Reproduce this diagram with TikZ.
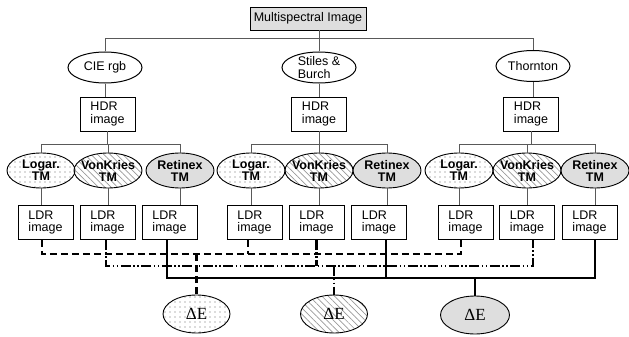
\documentclass[tikz,border=0pt]{standalone}
\usepackage{fontspec}
\setmainfont{Liberation Sans}
\newfontfamily\deltafont{Liberation Serif}
\usetikzlibrary{shapes.geometric,patterns.meta}
\definecolor{boxgray}{gray}{0.87}
\definecolor{linegray}{gray}{0.35}
\tikzset{
    every node/.style={font=\fontsize{12.5}{12.5}\selectfont},
    tree/.style={draw=linegray, line width=0.7pt},
    topbox/.style={draw, line width=0.8pt, fill=boxgray, minimum width=116pt, minimum height=23pt, inner sep=0pt},
    imgbox/.style={draw, line width=0.8pt, minimum width=55pt, minimum height=34pt, inner sep=0pt, align=left},
    space/.style={draw, line width=1pt, ellipse, minimum width=74pt, minimum height=31pt, inner sep=-6pt, align=left},
    tmnode/.style={draw, line width=0.9pt, ellipse, minimum width=68pt, minimum height=35pt, inner sep=-8pt, align=center, font=\fontsize{12.5}{12}\selectfont\bfseries},
    deltanode/.style={draw, line width=0.9pt, ellipse, minimum width=67pt, minimum height=38pt, inner sep=-8pt, font=\fontsize{17}{17}\deltafont},
    logfill/.style={pattern={Dots[distance=5pt, radius=0.6pt]}, pattern color=gray!80!black},
    vkfill/.style={pattern={Lines[angle=-45, distance=4.5pt, line width=0.7pt]}, pattern color=gray!80},
    retfill/.style={fill=boxgray},
    logline/.style={line width=2.2pt, dash pattern=on 7pt off 4pt},
    vkline/.style={line width=2.2pt, dash pattern=on 10pt off 2.5pt on 1.5pt off 2.5pt on 1.5pt off 2.5pt},
    retline/.style={line width=2.2pt},
}

\begin{document}
\begin{tikzpicture}[x=1pt,y=-1pt]
    \useasboundingbox (0,0) rectangle (629,337);
    \coordinate (topy) at (0,38);     % line under the top box
    \coordinate (bry) at (0,144);     % branches to the TMs
    \coordinate (dashy) at (0,254);   % Logar. line
    \coordinate (dotsy) at (0,266);   % VonKries line
    \coordinate (solidy) at (0,278);  % Retinex line

    \node[topbox] (msi) at (308,18.5) {Multispectral Image};

    \node[space] (cie) at (105,67.5) {CIE rgb};
    \node[space] (stiles) at (319,67.5) {Stiles \&\\Burch};
    \node[space] (thornton) at (533,66) {Thornton};

    \node[imgbox] (hdr1) at (107.5,114) {HDR\\image};
    \node[imgbox] (hdr2) at (319,114) {HDR\\image};
    \node[imgbox] (hdr3) at (531,114) {HDR\\image};

    \node[tmnode, logfill] (log1) at (41,170.5) {Logar.\\TM};
    \node[tmnode, vkfill] (vk1) at (108,170.5) {VonKries\\TM};
    \node[tmnode, retfill] (ret1) at (180,170.5) {Retinex\\TM};
    \node[tmnode, logfill] (log2) at (251,170.5) {Logar.\\TM};
    \node[tmnode, vkfill] (vk2) at (319,170.5) {VonKries\\TM};
    \node[tmnode, retfill] (ret2) at (387,170.5) {Retinex\\TM};
    \node[tmnode, logfill] (log3) at (459,170.5) {Logar.\\TM};
    \node[tmnode, vkfill] (vk3) at (527,170.5) {VonKries\\TM};
    \node[tmnode, retfill] (ret3) at (595,170.5) {Retinex\\TM};

    \node[imgbox] (ldrl1) at (45.5,222.5) {LDR\\image};
    \node[imgbox] (ldrv1) at (107.5,222.5) {LDR\\image};
    \node[imgbox] (ldrr1) at (169.5,222.5) {LDR\\image};
    \node[imgbox] (ldrl2) at (254.5,222.5) {LDR\\image};
    \node[imgbox] (ldrv2) at (316.5,222.5) {LDR\\image};
    \node[imgbox] (ldrr2) at (379,222.5) {LDR\\image};
    \node[imgbox] (ldrl3) at (465.5,222.5) {LDR\\image};
    \node[imgbox] (ldrv3) at (527,222.5) {LDR\\image};
    \node[imgbox] (ldrr3) at (589.5,222.5) {LDR\\image};

    \node[deltanode, logfill] (de1) at (196.5,314) {ΔE};
    \node[deltanode, vkfill] (de2) at (334,314) {ΔE};
    \node[deltanode, retfill, minimum width=69pt] (de3) at (475,315) {ΔE};

    % tree
    \draw[tree] (cie.north) |- (thornton.north |- topy) -- (thornton.north);
    \draw[tree] (msi.south -| stiles.north) -- (stiles.north);
    \draw[tree] (cie.south) -- (cie.south |- hdr1.north);
    \draw[tree] (stiles.south) -- (hdr2.north);
    \draw[tree] (thornton.south) -- (thornton.south |- hdr3.north);
    \draw[tree] (hdr1.south) -- (hdr1.south |- bry);
    \draw[tree] (hdr2.south) -- (hdr2.south |- bry);
    \draw[tree] (hdr3.south) -- (hdr3.south |- bry);
    \draw[tree] (log1.north) |- (ret1.north |- bry) -- (ret1.north);
    \draw[tree] (vk1.north) -- (vk1.north |- bry);
    \draw[tree] (log2.north) |- (ret2.north |- bry) -- (ret2.north);
    \draw[tree] (vk2.north) -- (vk2.north |- bry);
    \draw[tree] (log3.north) |- (ret3.north |- bry) -- (ret3.north);
    \draw[tree] (vk3.north) -- (vk3.north |- bry);
    \draw[tree] (log1.south) -- (log1.south |- ldrl1.north);
    \draw[tree] (vk1.south) -- (vk1.south |- ldrv1.north);
    \draw[tree] (ret1.south) -- (ret1.south |- ldrr1.north);
    \draw[tree] (log2.south) -- (log2.south |- ldrl2.north);
    \draw[tree] (vk2.south) -- (vk2.south |- ldrv2.north);
    \draw[tree] (ret2.south) -- (ret2.south |- ldrr2.north);
    \draw[tree] (log3.south) -- (log3.south |- ldrl3.north);
    \draw[tree] (vk3.south) -- (vk3.south |- ldrv3.north);
    \draw[tree] (ret3.south) -- (ret3.south |- ldrr3.north);

    % LDR images to Delta E
    \draw[logline] ([xshift=-3.5pt]ldrl1.south) |- ([xshift=-4.5pt]ldrl3.south |- dashy) -- ([xshift=-4.5pt]ldrl3.south);
    \draw[logline] ([xshift=-6.5pt]ldrl2.south) -- ([xshift=-6.5pt]ldrl2.south |- dashy);
    \draw[logline] (de1.north |- dashy) -- (de1.north);
    \draw[vkline] ([xshift=-1.5pt]ldrv1.south) |- ([xshift=6pt]ldrv3.south |- dotsy) -- ([xshift=6pt]ldrv3.south);
    \draw[vkline] (ldrv2.south) -- (ldrv2.south |- dotsy);
    \draw[vkline] (de2.north |- dotsy) -- (de2.north);
    \draw[retline] ([xshift=-2.5pt]ldrr1.south) |- ([xshift=5.5pt]ldrr3.south |- solidy) -- ([xshift=5.5pt]ldrr3.south);
    \draw[retline] ([xshift=7pt]ldrr2.south) -- ([xshift=7pt]ldrr2.south |- solidy);
    \draw[retline] (de3.north |- solidy) -- (de3.north);
\end{tikzpicture}
\end{document}
